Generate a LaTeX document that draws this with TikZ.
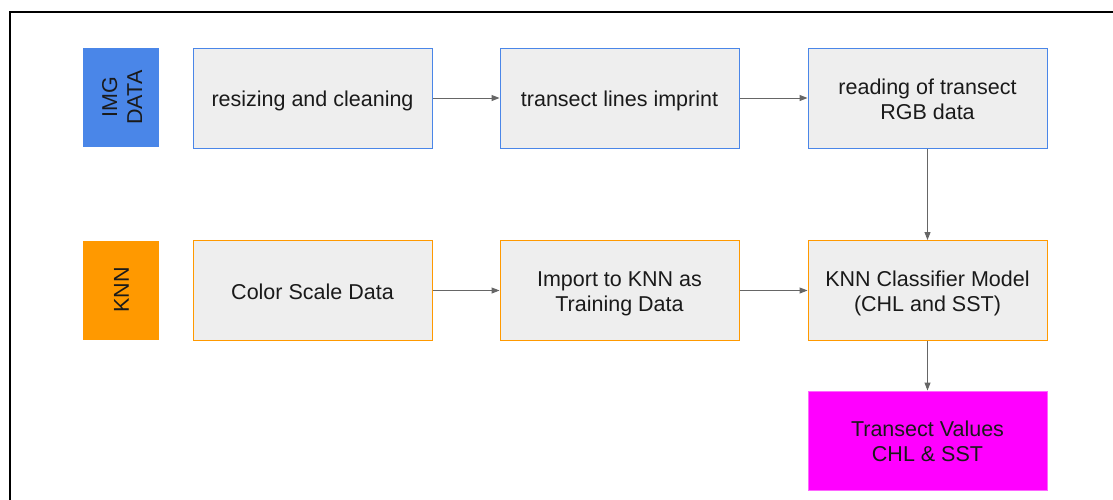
\documentclass[tikz,border=0pt]{standalone}
\usepackage{fontspec}
\setmainfont{Liberation Sans}
\usetikzlibrary{arrows.meta}
\definecolor{gblue}{HTML}{4A86E8}
\definecolor{gorange}{HTML}{FF9900}
\definecolor{gmag}{HTML}{FF00FF}
\definecolor{gfill}{HTML}{EEEEEE}
\definecolor{garrow}{HTML}{666666}
\definecolor{gtext}{HTML}{1A1A1A}
\newcommand\boxtxt[1]{\raisebox{-3.5pt}[\height][\depth]{\begin{tabular}{@{}c@{}}#1\end{tabular}}}
\tikzset{
  proc/.style={draw, line width=1pt, fill=gfill, text=gtext, minimum width=239pt, minimum height=100pt, align=center, inner sep=0pt, font=\fontsize{21.5}{25}\selectfont},
  bluebox/.style={proc, draw=gblue},
  orangebox/.style={proc, draw=gorange},
  tag/.style={draw=none, minimum width=76pt, minimum height=99pt, inner sep=0pt},
  tagtext/.style={rotate=90, align=center, text=gtext, font=\fontsize{21.5}{25}\selectfont, inner sep=0pt},
  conn/.style={draw=garrow, line width=1pt, -{Triangle[length=8pt,width=6pt]}}
}
\begin{document}
\begin{tikzpicture}[x=1pt,y=-1pt]
\useasboundingbox (0,0) rectangle (1113,499);
\fill[white] (0,0) rectangle (1113,499);
\draw[line width=2pt] (9.5,520) -- (9.5,11.5) -- (1125,11.5);
% tags
\node[tag, fill=gblue] (imgtag) at (121,97.5) {};
\node[tagtext] (imgtxt) at ([xshift=1pt]imgtag.center) {IMG\\DATA};
\node[tag, fill=gorange] (knntag) at (120.5,290) {};
\node[tagtext] (knntxt) at ([xshift=1pt]knntag.center) {KNN};
% row 1
\node[bluebox] (resize) at (312.5,98) {\boxtxt{resizing and cleaning}};
\node[bluebox] (lines) at (619.5,98) {\boxtxt{transect lines imprint}};
\node[bluebox] (rgb) at (927.5,98) {\boxtxt{reading of transect\\RGB data}};
% row 2
\node[orangebox] (scale) at (312.5,290.5) {\boxtxt{Color Scale Data}};
\node[orangebox] (import) at (619.5,290.5) {\boxtxt{Import to KNN as\\Training Data}};
\node[orangebox] (model) at (927.5,290.5) {\boxtxt{KNN Classifier Model\\(CHL and SST)}};
% output
\node[proc, draw=gmag!60, fill=gmag, minimum height=99pt] (values) at (927.5,440.5) {\boxtxt{Transect Values\\CHL \& SST}};
% connectors
\draw[conn] (resize) -- (lines);
\draw[conn] (lines) -- (rgb);
\draw[conn] (scale) -- (import);
\draw[conn] (import) -- (model);
\draw[conn] (rgb) -- (model);
\draw[conn] (model) -- (values);
\end{tikzpicture}
\end{document}
